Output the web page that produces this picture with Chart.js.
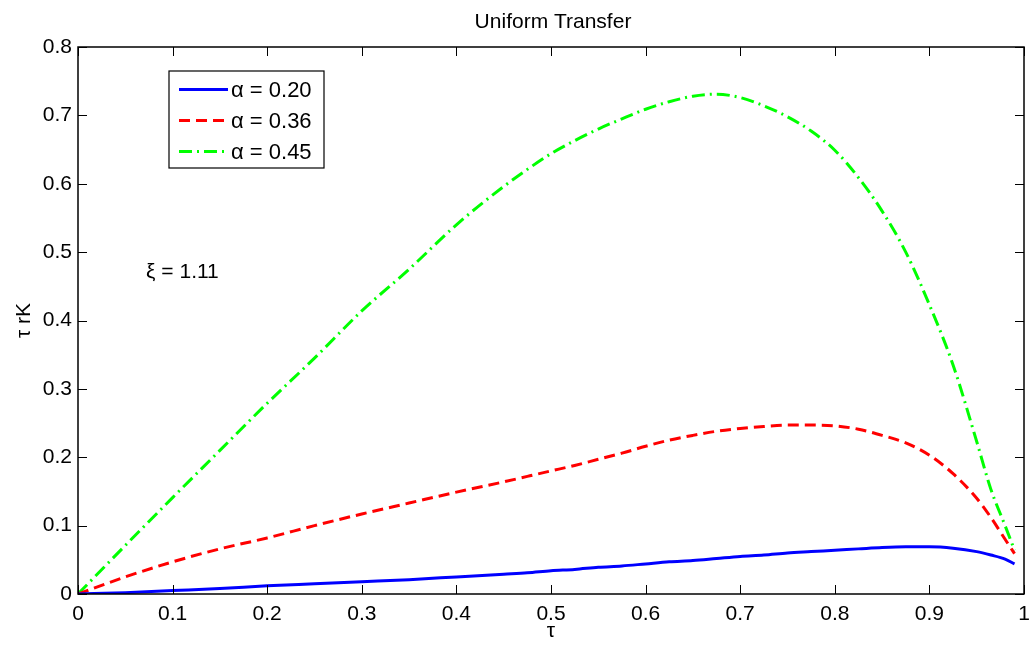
<!DOCTYPE html>
<html>
<head>
<meta charset="utf-8">
<title>Uniform Transfer</title>
<script src="https://cdn.jsdelivr.net/npm/chart.js@4.4.1/dist/chart.umd.min.js"></script>
<style>
  html, body { margin: 0; padding: 0; background: #fff; }
  #wrap { width: 1031px; height: 645px; }
</style>
</head>
<body>
<div id="wrap"><canvas id="uniformChart" width="1031" height="645"></canvas></div>
<script>
// tau values (x axis)
const tau = [0, 0.05, 0.1, 0.15, 0.2, 0.25, 0.3, 0.35, 0.4, 0.45, 0.475, 0.5, 0.525, 0.55, 0.575, 0.6, 0.625, 0.65, 0.675, 0.7, 0.725, 0.75, 0.775, 0.8, 0.825, 0.85, 0.875, 0.9, 0.925, 0.95, 0.965, 0.98, 0.99];

// tau rK for each alpha
const alpha020 = [0, 0.002, 0.005, 0.008, 0.012, 0.015, 0.018, 0.021, 0.025, 0.029, 0.031, 0.034, 0.036, 0.039, 0.041, 0.044, 0.047, 0.049, 0.052, 0.055, 0.057, 0.06, 0.062, 0.064, 0.066, 0.068, 0.069, 0.069, 0.067, 0.062, 0.057, 0.051, 0.044];
const alpha036 = [0, 0.025, 0.047, 0.066, 0.082, 0.1, 0.117, 0.133, 0.149, 0.164, 0.172, 0.18, 0.188, 0.197, 0.206, 0.216, 0.225, 0.232, 0.238, 0.242, 0.245, 0.247, 0.247, 0.246, 0.241, 0.232, 0.221, 0.203, 0.176, 0.14, 0.112, 0.08, 0.059];
const alpha045 = [0, 0.071, 0.141, 0.21, 0.279, 0.345, 0.414, 0.475, 0.54, 0.596, 0.621, 0.644, 0.663, 0.68, 0.695, 0.709, 0.72, 0.728, 0.731, 0.726, 0.714, 0.698, 0.677, 0.649, 0.609, 0.56, 0.5, 0.423, 0.335, 0.223, 0.153, 0.1, 0.064];

const seriesLabels = ["α = 0.20", "α = 0.36", "α = 0.45"];
const xTicks = [0, 0.1, 0.2, 0.3, 0.4, 0.5, 0.6, 0.7, 0.8, 0.9, 1];
const yTicks = [0, 0.1, 0.2, 0.3, 0.4, 0.5, 0.6, 0.7, 0.8];

const chartTitle = "Uniform Transfer";
const xTitle = "τ";
const yTitle = "τ rK";
const note = "ξ = 1.11";

const FONT = "'Liberation Sans', Arial, Helvetica, sans-serif";

function toPoints(ys) {
  return tau.map((t, i) => ({ x: t, y: ys[i] }));
}

// draws the matlab-like frame, inside ticks, titles, legend and the note
const matlabLook = {
  id: "matlabLook",
  afterDraw(chart) {
    const ctx = chart.ctx;
    const a = chart.chartArea;
    const xs = chart.scales.x;
    const ys = chart.scales.y;
    ctx.save();

    // frame
    ctx.strokeStyle = "#000";
    ctx.lineWidth = 1.5;
    ctx.strokeRect(a.left, a.top, a.right - a.left, a.bottom - a.top);

    // ticks pointing inside, on all four sides
    ctx.lineWidth = 1;
    ctx.beginPath();
    xTicks.forEach((v) => {
      const px = Math.round(xs.getPixelForValue(v)) + 0.5;
      ctx.moveTo(px, a.bottom); ctx.lineTo(px, a.bottom - 9);
      ctx.moveTo(px, a.top); ctx.lineTo(px, a.top + 9);
    });
    yTicks.forEach((v) => {
      const py = Math.round(ys.getPixelForValue(v)) + 0.5;
      ctx.moveTo(a.left, py); ctx.lineTo(a.left + 9, py);
      ctx.moveTo(a.right, py); ctx.lineTo(a.right - 9, py);
    });
    ctx.stroke();

    ctx.fillStyle = "#000";
    ctx.textBaseline = "middle";

    // title
    ctx.font = "21px " + FONT;
    ctx.textAlign = "center";
    ctx.fillText(chartTitle, (a.left + a.right) / 2 + 2, 22);

    // axis titles
    ctx.font = "21px " + FONT;
    ctx.fillText(xTitle, (a.left + a.right) / 2, 631);
    ctx.save();
    ctx.translate(24, (a.top + a.bottom) / 2);
    ctx.rotate(-Math.PI / 2);
    ctx.fillText(yTitle, 0, 0);
    ctx.restore();

    // note inside the plot
    ctx.font = "21px " + FONT;
    ctx.textAlign = "left";
    ctx.fillText(note, xs.getPixelForValue(0.072), ys.getPixelForValue(0.471));

    // legend
    const lx = 169, ly = 71, lw = 155, lh = 97;
    ctx.fillStyle = "#fff";
    ctx.fillRect(lx, ly, lw, lh);
    ctx.strokeStyle = "#000";
    ctx.lineWidth = 1.2;
    ctx.strokeRect(lx, ly, lw, lh);
    ctx.font = "22px " + FONT;
    chart.data.datasets.forEach((ds, i) => {
      const y = 89.5 + i * 31;
      ctx.save();
      ctx.strokeStyle = ds.borderColor;
      ctx.lineWidth = ds.borderWidth;
      ctx.setLineDash(ds.borderDash || []);
      ctx.beginPath();
      ctx.moveTo(179, y);
      ctx.lineTo(228, y);
      ctx.stroke();
      ctx.restore();
      ctx.fillStyle = "#000";
      ctx.fillText(ds.label, 231, y + 1);
    });

    ctx.restore();
  },
};

const ctx = document.getElementById("uniformChart").getContext("2d");

new Chart(ctx, {
  type: "line",
  data: {
    datasets: [
      {
        label: seriesLabels[0],
        data: toPoints(alpha020),
        borderColor: "#0000ff",
        borderWidth: 3,
        borderDash: [],
      },
      {
        label: seriesLabels[1],
        data: toPoints(alpha036),
        borderColor: "#ff0000",
        borderWidth: 3,
        borderDash: [11, 6],
      },
      {
        label: seriesLabels[2],
        data: toPoints(alpha045),
        borderColor: "#00ff00",
        borderWidth: 3,
        borderDash: [13, 5, 2, 5],
      },
    ],
  },
  options: {
    responsive: false,
    animation: false,
    devicePixelRatio: 1,
    layout: {
      padding: { top: 47, right: 7, left: 0, bottom: 0 },
    },
    elements: {
      point: { radius: 0 },
      line: { fill: false, cubicInterpolationMode: "monotone" },
    },
    scales: {
      x: {
        type: "linear",
        min: 0,
        max: 1,
        afterBuildTicks: (scale) => {
          scale.ticks = xTicks.map((v) => ({ value: v }));
        },
        afterFit: (scale) => {
          scale.height = 51;
          scale.paddingLeft = 0;
          scale.paddingRight = 0;
        },
        grid: { display: false, drawTicks: false },
        border: { display: false },
        ticks: {
          color: "#000",
          padding: 8,
          maxRotation: 0,
          font: { family: FONT, size: 21 },
          callback: (v) => String(Math.round(v * 10) / 10),
        },
      },
      y: {
        type: "linear",
        min: 0,
        max: 0.8,
        afterBuildTicks: (scale) => {
          scale.ticks = yTicks.map((v) => ({ value: v }));
        },
        afterFit: (scale) => {
          scale.width = 78;
          scale.paddingTop = 0;
          scale.paddingBottom = 0;
        },
        grid: { display: false, drawTicks: false },
        border: { display: false },
        ticks: {
          color: "#000",
          padding: 6,
          font: { family: FONT, size: 21 },
          callback: (v) => String(Math.round(v * 10) / 10),
        },
      },
    },
    plugins: {
      legend: { display: false },
      title: { display: false },
      tooltip: { enabled: false },
    },
  },
  plugins: [matlabLook],
});
</script>
</body>
</html>
